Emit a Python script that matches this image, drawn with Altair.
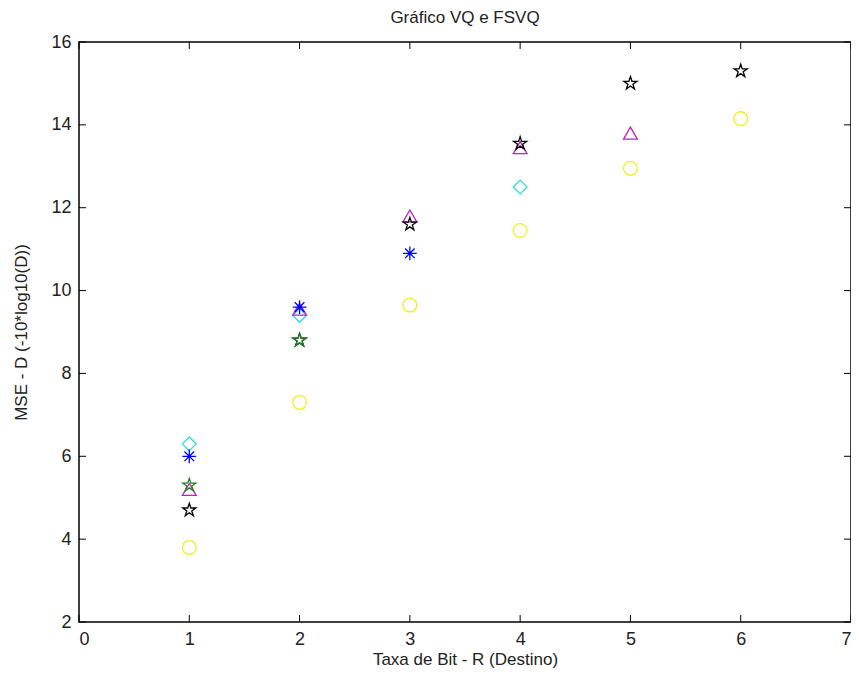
import altair as alt
import pandas as pd

# Data
series_names = ["circle", "diamond", "triangle", "pentagram", "asterisk", "green"]
circle_x = [1, 2, 3, 4, 5, 6]
circle_y = [3.8, 7.3, 9.65, 11.45, 12.95, 14.15]
diamond_x = [1, 2, 4]
diamond_y = [6.3, 9.4, 12.5]
triangle_x = [1, 2, 3, 4, 5]
triangle_y = [5.2, 9.55, 11.8, 13.45, 13.8]
pentagram_x = [1, 2, 3, 4, 5, 6]
pentagram_y = [4.7, 8.8, 11.6, 13.55, 15.0, 15.3]
asterisk_x = [1, 2, 3]
asterisk_y = [6.0, 9.6, 10.9]
green_x = [1, 2]
green_y = [5.3, 8.8]

x_ticks = [0, 1, 2, 3, 4, 5, 6, 7]
y_ticks = [2, 4, 6, 8, 10, 12, 14, 16]

rows = []
for name, xs, ys in [
    ("circle", circle_x, circle_y),
    ("diamond", diamond_x, diamond_y),
    ("triangle", triangle_x, triangle_y),
    ("pentagram", pentagram_x, pentagram_y),
    ("asterisk", asterisk_x, asterisk_y),
    ("green", green_x, green_y),
]:
    for x, y in zip(xs, ys):
        rows.append({"s": name, "x": x, "y": y})
df = pd.DataFrame(rows)

STAR = ("M0,-1L0.2245,-0.309L0.951,-0.309L0.363,0.118L0.588,0.809L0,0.382"
        "L-0.588,0.809L-0.363,0.118L-0.951,-0.309L-0.2245,-0.309Z")
AST = "M-1,0L1,0M0,-1L0,1M-0.7,-0.7L0.7,0.7M-0.7,0.7L0.7,-0.7"
GSTAR = STAR

W, H = 772, 580
FONT = "Liberation Sans"

xscale = alt.Scale(domain=[0, 7], nice=False, zero=False)
yscale = alt.Scale(domain=[2, 16], nice=False, zero=False)

points = alt.Chart(df).mark_point(filled=False, strokeWidth=1.3, size=190, opacity=1).encode(
    x=alt.X("x:Q", scale=xscale,
            axis=alt.Axis(values=x_ticks, format="d", title="Taxa de Bit - R (Destino)", grid=False,
                          domain=False, ticks=False, labelPadding=8, titlePadding=3,
                          labelFontSize=18, titleFontSize=17, labelFont=FONT, titleFont=FONT,
                          labelColor="#222", titleColor="#222", titleFontWeight="normal")),
    y=alt.Y("y:Q", scale=yscale,
            axis=alt.Axis(values=y_ticks, format="d", title="MSE - D (-10*log10(D))", grid=False,
                          domain=False, ticks=False, labelPadding=8, titlePadding=20,
                          labelFontSize=18, titleFontSize=17, labelFont=FONT, titleFont=FONT,
                          labelColor="#222", titleColor="#222", titleFontWeight="normal")),
    color=alt.Color("s:N", legend=None, scale=alt.Scale(
        domain=series_names,
        range=["#f0f020", "#30d8d8", "#c020c0", "#000000", "#0000ff", "#208020"])),
    shape=alt.Shape("s:N", legend=None, scale=alt.Scale(
        domain=series_names,
        range=["circle", "diamond", "triangle-up", STAR, AST, GSTAR])),
)

xt = pd.DataFrame({"v": x_ticks})
yt = pd.DataFrame({"v": y_ticks})
tick_color = "#000"
bottom = alt.Chart(xt).mark_rule(color=tick_color).encode(
    x=alt.X("v:Q", scale=xscale), y=alt.value(H), y2=alt.value(H - 7))
top = alt.Chart(xt).mark_rule(color=tick_color).encode(
    x=alt.X("v:Q", scale=xscale), y=alt.value(0), y2=alt.value(7))
left = alt.Chart(yt).mark_rule(color=tick_color).encode(
    y=alt.Y("v:Q", scale=yscale), x=alt.value(0), x2=alt.value(7))
right = alt.Chart(yt).mark_rule(color=tick_color).encode(
    y=alt.Y("v:Q", scale=yscale), x=alt.value(W), x2=alt.value(W - 7))

chart = alt.layer(points, bottom, top, left, right).properties(
    width=W, height=H,
    autosize=alt.AutoSizeParams(type="none"),
    padding={"left": 71, "top": 34, "right": 0, "bottom": 52},
    title=alt.TitleParams("Gráfico VQ e FSVQ", fontSize=17, font=FONT, fontWeight="normal",
                          color="#222", anchor="middle", offset=6),
    background="white",
).configure_view(stroke="black", strokeWidth=1.5)

chart.save("out.html", embed_options={"renderer": "svg", "actions": False})
